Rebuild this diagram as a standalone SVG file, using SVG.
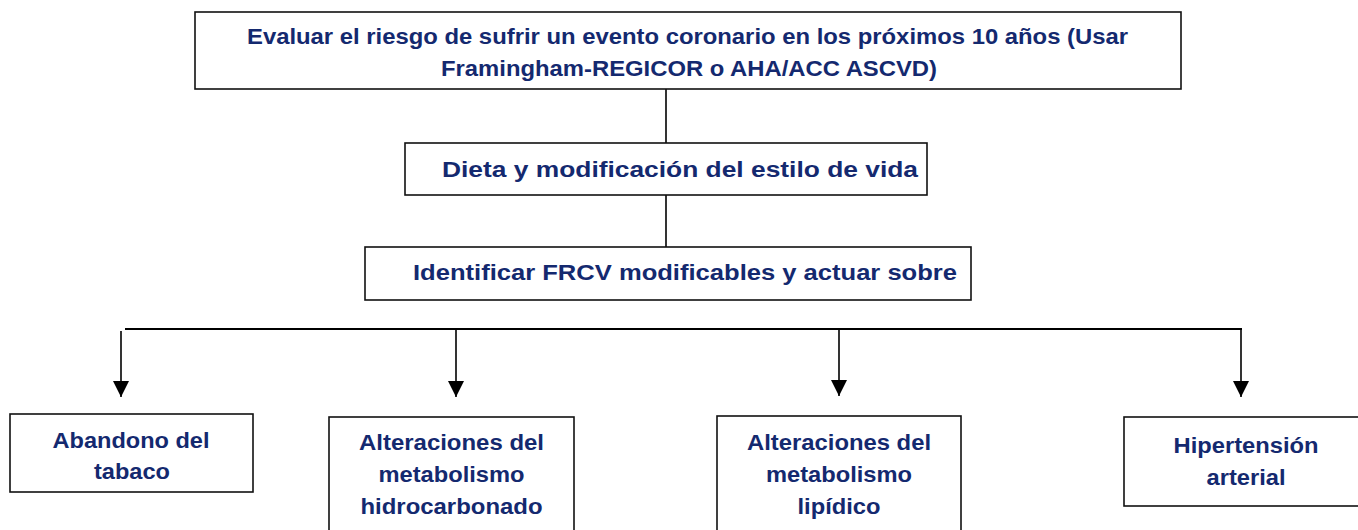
<svg xmlns="http://www.w3.org/2000/svg" width="1358" height="530" viewBox="0 0 1358 530">
<defs>
<style>
.box{fill:#ffffff;stroke:#111111;stroke-width:1.6}
.t{font-family:"Liberation Sans",Arial,sans-serif;font-weight:bold;font-size:22px;fill:#14296f;text-anchor:middle}
.ln{stroke:#000000;stroke-width:1.6;fill:none}
.bus{stroke:#000000;stroke-width:2.2;fill:none}
</style>
<marker id="arr" viewBox="0 0 10 10" refX="10" refY="5" markerWidth="16" markerHeight="16" markerUnits="userSpaceOnUse" orient="auto">
<path d="M0,0 L10,5 L0,10 Z" fill="#000000"/>
</marker>
</defs>
<rect width="1358" height="530" fill="#ffffff"/>
<g id="connectors">
<line class="ln" x1="666" y1="89" x2="666" y2="143"/>
<line class="ln" x1="666" y1="195" x2="666" y2="247"/>
<line class="bus" x1="125" y1="329" x2="1242" y2="329"/>
<line class="ln" x1="121" y1="331" x2="121" y2="397" marker-end="url(#arr)"/>
<line class="ln" x1="456" y1="329" x2="456" y2="397" marker-end="url(#arr)"/>
<line class="ln" x1="839" y1="329" x2="839" y2="396" marker-end="url(#arr)"/>
<line class="ln" x1="1241" y1="329" x2="1241" y2="397" marker-end="url(#arr)"/>
</g>
<g id="n-evaluar">
<rect class="box" x="195" y="12" width="986" height="77"/>
<text class="t" x="687.5" y="43.5" textLength="881" lengthAdjust="spacingAndGlyphs">Evaluar el riesgo de sufrir un evento coronario en los próximos 10 años (Usar</text>
<text class="t" x="689" y="75.5" textLength="496" lengthAdjust="spacingAndGlyphs">Framingham-REGICOR o AHA/ACC ASCVD)</text>
</g>
<g id="n-dieta">
<rect class="box" x="405" y="143" width="522" height="52"/>
<text class="t" x="680" y="176.5" textLength="476" lengthAdjust="spacingAndGlyphs">Dieta y modificación del estilo de vida</text>
</g>
<g id="n-identificar">
<rect class="box" x="365" y="247" width="606" height="53"/>
<text class="t" x="685" y="279.5" textLength="544" lengthAdjust="spacingAndGlyphs">Identificar FRCV modificables y actuar sobre</text>
</g>
<g id="n-tabaco">
<rect class="box" x="10" y="414" width="243" height="78"/>
<text class="t" x="131" y="447.5" textLength="157" lengthAdjust="spacingAndGlyphs">Abandono del</text>
<text class="t" x="132" y="478.5" textLength="76" lengthAdjust="spacingAndGlyphs">tabaco</text>
</g>
<g id="n-hidrocarbonado">
<rect class="box" x="329" y="417" width="245" height="130"/>
<text class="t" x="451.5" y="449.5" textLength="185" lengthAdjust="spacingAndGlyphs">Alteraciones del</text>
<text class="t" x="451.5" y="481.5" textLength="146" lengthAdjust="spacingAndGlyphs">metabolismo</text>
<text class="t" x="451.5" y="513.5" textLength="182" lengthAdjust="spacingAndGlyphs">hidrocarbonado</text>
</g>
<g id="n-lipidico">
<rect class="box" x="717" y="416" width="244" height="130"/>
<text class="t" x="839" y="449.5" textLength="184" lengthAdjust="spacingAndGlyphs">Alteraciones del</text>
<text class="t" x="839" y="481.5" textLength="146" lengthAdjust="spacingAndGlyphs">metabolismo</text>
<text class="t" x="839" y="513.5" textLength="83" lengthAdjust="spacingAndGlyphs">lipídico</text>
</g>
<g id="n-hipertension">
<rect class="box" x="1124" y="417" width="244" height="89"/>
<text class="t" x="1246" y="452.5" textLength="145" lengthAdjust="spacingAndGlyphs">Hipertensión</text>
<text class="t" x="1246" y="484.5" textLength="79" lengthAdjust="spacingAndGlyphs">arterial</text>
</g>
</svg>
